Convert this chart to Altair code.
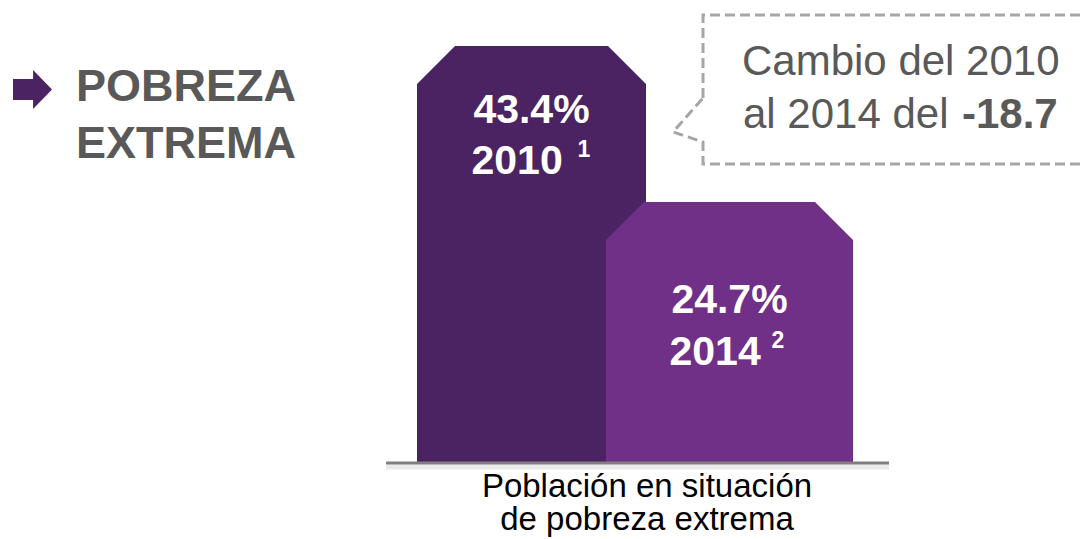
import altair as alt
import pandas as pd

# ---------------- data ----------------
years = ["2010", "2014"]
values = [43.4, 24.7]
value_labels = ["43.4%", "24.7%"]
notes = ["1", "2"]
bar_colors = ["#4b2362", "#703088"]
change_label = "-18.7"
title_lines = ["POBREZA", "EXTREMA"]
callout_lines = ["Cambio del 2010", "al 2014 del "]
xlabel_lines = ["Población en situación", "de pobreza extrema"]

# ---------------- layout (plot-area pixels) ----------------
W, H = 1074, 531
FONT = "Liberation Sans"
GRAY = "#595959"
bar_left = [409, 598]
bar_right = [638, 845]
CH_PX = 38            # chamfer size
PX_PER_UNIT = 8.342   # vertical scale
BASE_PX = 454         # baseline position
BASE_OFF = 54         # infographic offset of the drawn baseline
zero_px = BASE_PX - BASE_OFF
y_dom = [(zero_px - H) / PX_PER_UNIT, zero_px / PX_PER_UNIT]
base_val = -BASE_OFF / PX_PER_UNIT
ch_val = CH_PX / PX_PER_UNIT

xs = alt.Scale(domain=[0, W], nice=False, zero=False)
ys = alt.Scale(domain=y_dom, nice=False, zero=False)

# ---------------- bars (chamfered polygons) ----------------
rows = []
for i, (yr, v) in enumerate(zip(years, values)):
    L, R = bar_left[i], bar_right[i]
    pts = [(L, v - ch_val), (L + CH_PX, v), (R - CH_PX, v), (R, v - ch_val)]
    for k, (xx, yy) in enumerate(pts):
        rows.append(dict(year=yr, x=xx, y=yy, base=base_val, k=k))
bars_df = pd.DataFrame(rows)

color_enc = alt.Color("year:N", scale=alt.Scale(domain=years, range=bar_colors), legend=None)

bar_layers = []
for yr in years:
    bar_layers.append(
        alt.Chart(bars_df)
        .transform_filter(alt.datum.year == yr)
        .mark_area(interpolate="linear", opacity=1, strokeWidth=0)
        .encode(
            x=alt.X("x:Q", scale=xs, axis=None),
            y=alt.Y("y:Q", scale=ys, axis=None, stack=None),
            y2="base:Q",
            color=color_enc,
        )
    )

# ---------------- baseline rule + shadow ----------------
base_df = pd.DataFrame({"x": [378], "x2": [881], "y": [base_val]})
shadow = alt.Chart(base_df).mark_rule(color="#d0d0d0", strokeWidth=5, opacity=0.45, yOffset=5).encode(
    x=alt.X("x:Q", scale=xs, axis=None), x2="x2:Q", y=alt.Y("y:Q", scale=ys, axis=None)
)
rule = alt.Chart(base_df).mark_rule(color="#808080", strokeWidth=3, yOffset=1).encode(
    x=alt.X("x:Q", scale=xs, axis=None), x2="x2:Q", y=alt.Y("y:Q", scale=ys, axis=None)
)

# ---------------- labels inside bars ----------------
centers = [(bar_left[i] + bar_right[i]) / 2 for i in range(2)]
val_y = [115, 305]
yr_y = [166, 357]
sup_y = [149, 340]
sup_dx = [46, 42]

lab_df = pd.DataFrame({"label": value_labels, "x": centers, "ty": val_y})
yr_df = pd.DataFrame({"label": years, "x": [c - 60 for c in centers], "ty": yr_y})
sup_df = pd.DataFrame({"label": notes, "x": [c + d for c, d in zip(centers, sup_dx)], "ty": sup_y})

val_text = alt.Chart(lab_df).mark_text(
    font=FONT, fontSize=41, fontWeight="bold", color="white", align="center", baseline="alphabetic"
).encode(x=alt.X("x:Q", scale=xs, axis=None), y=alt.Y("ty:Q", scale=None), text="label:N")
yr_text = alt.Chart(yr_df).mark_text(
    font=FONT, fontSize=41, fontWeight="bold", color="white", align="left", baseline="alphabetic"
).encode(x=alt.X("x:Q", scale=xs, axis=None), y=alt.Y("ty:Q", scale=None), text="label:N")
sup_text = alt.Chart(sup_df).mark_text(
    font=FONT, fontSize=23, fontWeight="bold", color="white", align="left", baseline="alphabetic"
).encode(x=alt.X("x:Q", scale=xs, axis=None), y=alt.Y("ty:Q", scale=None), text="label:N")

# ---------------- title with arrow ----------------
title_df = pd.DataFrame({"label": title_lines, "tx": [68, 68], "ty": [93, 150]})
title_text = alt.Chart(title_df).mark_text(
    font=FONT, fontSize=45, fontWeight="bold", color=GRAY, align="left", baseline="alphabetic"
).encode(x=alt.X("tx:Q", scale=None), y=alt.Y("ty:Q", scale=None), text="label:N")

arrow_path = "M -1 -0.54 L 0.03 -0.54 L 0.03 -1 L 1 0 L 0.03 1 L 0.03 0.54 L -1 0.54 Z"
arrow = alt.Chart(pd.DataFrame({"tx": [24.5], "ty": [81.5]})).mark_point(
    shape=arrow_path, filled=True, fill=bar_colors[0], opacity=1, strokeWidth=0, size=1521
).encode(x=alt.X("tx:Q", scale=None), y=alt.Y("ty:Q", scale=None))

# ---------------- callout ----------------
box_x = [695, 695, 1090, 1090, 695, 695, 665, 695]
box_y = [90, 7, 7, 156, 156, 134, 124, 90]
box_df = pd.DataFrame({"px": box_x, "py": box_y, "k": list(range(len(box_x)))})
box = alt.Chart(box_df).mark_line(
    color="#a6a6a6", strokeWidth=3, strokeDash=[10, 5], strokeCap="butt", strokeJoin="miter"
).encode(x=alt.X("px:Q", scale=None), y=alt.Y("py:Q", scale=None), order="k:Q")

call_df = pd.DataFrame({"label": callout_lines, "tx": [734, 735], "ty": [67, 120]})
call_text = alt.Chart(call_df).mark_text(
    font=FONT, fontSize=42, color=GRAY, align="left", baseline="alphabetic"
).encode(x=alt.X("tx:Q", scale=None), y=alt.Y("ty:Q", scale=None), text="label:N")
chg_text = alt.Chart(pd.DataFrame({"label": [change_label], "tx": [954], "ty": [120]})).mark_text(
    font=FONT, fontSize=42, fontWeight="bold", color=GRAY, align="left", baseline="alphabetic"
).encode(x=alt.X("tx:Q", scale=None), y=alt.Y("ty:Q", scale=None), text="label:N")

# ---------------- category label below ----------------
xl_df = pd.DataFrame({"label": xlabel_lines, "tx": [639, 639], "ty": [489, 522]})
xl_text = alt.Chart(xl_df).mark_text(
    font=FONT, fontSize=33, color="black", align="center", baseline="alphabetic"
).encode(x=alt.X("tx:Q", scale=None), y=alt.Y("ty:Q", scale=None), text="label:N")

chart = alt.layer(
    *bar_layers, shadow, rule, val_text, yr_text, sup_text,
    title_text, arrow, box, call_text, chg_text, xl_text
).properties(
    width=W, height=H, padding=0,
    autosize=alt.AutoSizeParams(type="none"),
    background="white",
).configure_view(stroke=None)

chart.save("out.html", embed_options={"renderer": "svg", "actions": False})
